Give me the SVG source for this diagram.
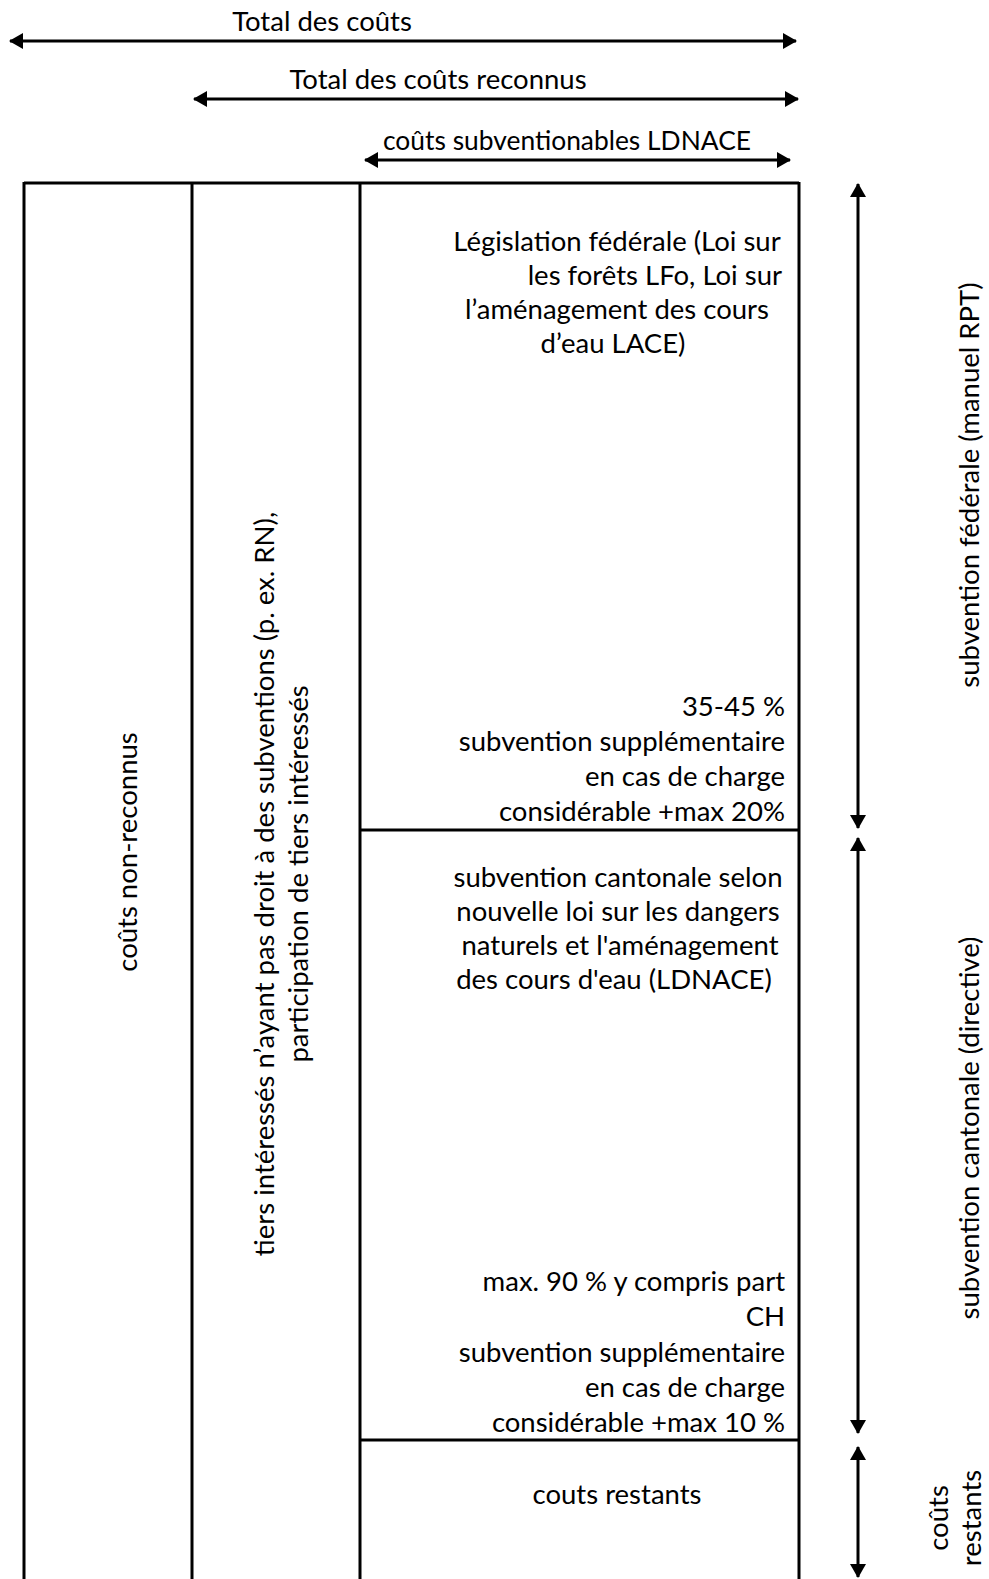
<svg xmlns="http://www.w3.org/2000/svg" width="989" height="1579" viewBox="0 0 989 1579">
<style>
text{font-family:Lato,"Open Sans","Liberation Sans",sans-serif;font-size:27.5px;fill:#000}
.m{text-anchor:middle}
.e{text-anchor:end}
.ln{stroke:#000;stroke-width:3;fill:none}
.ar{stroke:#000;stroke-width:3;fill:none;marker-start:url(#ah);marker-end:url(#ah)}
</style>
<defs>
<marker id="ah" markerUnits="userSpaceOnUse" markerWidth="14" markerHeight="16" refX="13" refY="8" orient="auto-start-reverse" viewBox="0 0 14 16">
<path d="M0,0 L14,8 L0,16 z" fill="#000"/>
</marker>
</defs>
<rect width="989" height="1579" fill="#fff"/>

<g id="table">
<line class="ln" x1="24" y1="183" x2="799" y2="183"/>
<line class="ln" x1="24" y1="182" x2="24" y2="1580"/>
<line class="ln" x1="192" y1="182" x2="192" y2="1580"/>
<line class="ln" x1="360" y1="182" x2="360" y2="1580"/>
<line class="ln" x1="799" y1="182" x2="799" y2="1580"/>
<line class="ln" x1="360" y1="830" x2="799" y2="830"/>
<line class="ln" x1="360" y1="1440" x2="799" y2="1440"/>
</g>

<g id="connectors">
<line class="ar" x1="10" y1="41" x2="796" y2="41"/>
<line class="ar" x1="194" y1="99" x2="798" y2="99"/>
<line class="ar" x1="365" y1="160" x2="790" y2="160"/>
<line class="ar" x1="858" y1="184" x2="858" y2="828"/>
<line class="ar" x1="858" y1="838" x2="858" y2="1433"/>
<line class="ar" x1="858" y1="1447" x2="858" y2="1577"/>
</g>

<g id="headers">
<text class="m" x="322" y="31">Total des coûts</text>
<text class="m" x="438" y="89">Total des coûts reconnus</text>
<text class="m" x="567" y="150" textLength="368" lengthAdjust="spacingAndGlyphs">coûts subventionables LDNACE</text>
</g>

<g id="col-non-reconnus">
<text class="m" transform="translate(137,852) rotate(-90)">coûts non-reconnus</text>
</g>

<g id="col-tiers">
<text class="m" transform="translate(274,884) rotate(-90)">tiers intéressés n’ayant pas droit à des subventions (p. ex. RN),</text>
<text class="m" transform="translate(308,874) rotate(-90)">participation de tiers intéressés</text>
</g>

<g id="cell-federal">
<text class="m" x="617" y="251">Législation fédérale (Loi sur</text>
<text class="e" x="782" y="285">les forêts LFo, Loi sur</text>
<text class="m" x="617" y="319">l’aménagement des cours</text>
<text class="m" x="613" y="353">d’eau LACE)</text>
<text class="e" x="785" y="716">35-45 %</text>
<text class="e" x="785" y="751">subvention supplémentaire</text>
<text class="e" x="785" y="786">en cas de charge</text>
<text class="e" x="785" y="821">considérable +max 20%</text>
</g>

<g id="cell-cantonal">
<text class="m" x="618" y="887">subvention cantonale selon</text>
<text class="m" x="618" y="921">nouvelle loi sur les dangers</text>
<text class="m" x="620" y="955">naturels et l'aménagement</text>
<text class="m" x="614" y="989">des cours d'eau (LDNACE)</text>
<text class="e" x="785" y="1291">max. 90 % y compris part</text>
<text class="e" x="785" y="1326">CH</text>
<text class="e" x="785" y="1362">subvention supplémentaire</text>
<text class="e" x="785" y="1397">en cas de charge</text>
<text class="e" x="785" y="1432">considérable +max 10 %</text>
</g>

<g id="cell-restants">
<text class="m" x="617" y="1504">couts restants</text>
</g>

<g id="labels-right">
<text class="m" transform="translate(979,485) rotate(-90)">subvention fédérale (manuel RPT)</text>
<text class="m" transform="translate(979,1128) rotate(-90)">subvention cantonale (directive)</text>
<text class="m" transform="translate(948,1518) rotate(-90)">coûts</text>
<text class="m" transform="translate(981,1518) rotate(-90)">restants</text>
</g>
</svg>
